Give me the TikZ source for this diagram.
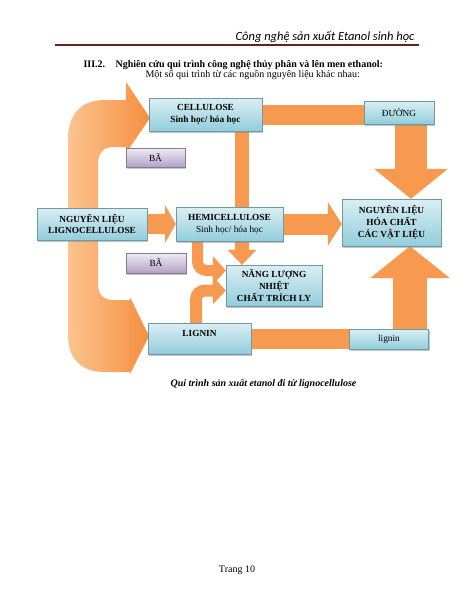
\documentclass[tikz,border=0pt]{standalone}
\usepackage{fontspec}
\setmainfont{Liberation Serif}
\newfontfamily\headfont{Carlito}
\usetikzlibrary{calc}
\usetikzlibrary{arrows.meta}
\usetikzlibrary{shadows}
\usetikzlibrary{backgrounds}

\definecolor{flow}{HTML}{F79A50}
\definecolor{flowlight}{HTML}{FBC490}
\definecolor{flowdark}{HTML}{F68E3E}
\definecolor{boxtop}{HTML}{DAEEF3}
\definecolor{boxbot}{HTML}{92CDDC}
\definecolor{batop}{HTML}{EFEBF4}
\definecolor{babot}{HTML}{B2A2C7}
\definecolor{rulecol}{HTML}{622423}

\tikzset{
  box/.style={top color=boxtop, bottom color=boxbot, draw=boxbot!75!black,
    line width=0.3pt, align=center, inner sep=0pt,
    drop shadow={shadow xshift=1.2pt, shadow yshift=-1.5pt, opacity=0.45},
    font=\fontsize{9.3}{11.8}\selectfont},
  babox/.style={box, top color=batop, bottom color=babot, draw=babot!75!black},
  flowline/.style={draw=flow, line width=#1},
  bentflow/.style={left color=flowlight, right color=flowdark, draw=none},
}

\begin{document}
\begin{tikzpicture}[x=1pt, y=1pt]
    \useasboundingbox (0,0) rectangle (474,-613);

    % page header
    \node[anchor=base east, font=\headfont\itshape\fontsize{12.5}{14}\selectfont] (hdr) at (418,-40)
      {Công nghệ sản xuất Etanol sinh học};
    \draw[rulecol, line width=2.5pt] (55,-45) -- (419,-45);

    \node[anchor=base west, font=\bfseries\fontsize{10}{12}\selectfont] (secnum) at (80,-67) {III.2.};
    \node[anchor=base west, font=\bfseries\fontsize{10}{12}\selectfont] (sectitle) at (112,-67)
      {Nghiên cứu qui trình công nghệ thủy phân và lên men ethanol:};
    \node[anchor=base west, font=\fontsize{10}{12}\selectfont] (intro) at (142,-77)
      {Một số qui trình từ các nguồn nguyên liệu khác nhau:};

    % boxes
    \node[box, minimum width=113pt, minimum height=33pt] (cell) at (205.5,-114.5)
      {\textbf{CELLULOSE}\\\textbf{Sinh học/ hóa học}};
    \node[box, minimum width=70pt, minimum height=23pt] (duong) at (399,-112.5) {ĐƯỜNG};
    \node[babox, minimum width=59pt, minimum height=19pt] (ba1) at (155.5,-157.5) {BÃ};
    \node[box, minimum width=110pt, minimum height=32pt] (lig) at (92,-224)
      {\textbf{NGUYÊN LIỆU}\\\textbf{LIGNOCELLULOSE}};
    \node[box, minimum width=107pt, minimum height=34pt] (hemi) at (229.5,-224)
      {\textbf{HEMICELLULOSE}\\Sinh học/ hóa học};
    \node[box, minimum width=99pt, minimum height=47pt] (nlhc) at (391.5,-222.5)
      {\textbf{NGUYÊN LIỆU}\\\textbf{HÓA CHẤT}\\\textbf{CÁC VẬT LIỆU}};
    \node[babox, minimum width=60pt, minimum height=20pt] (ba2) at (156,-263) {BÃ};
    \node[box, minimum width=96pt, minimum height=41pt] (nang) at (274,-285.5)
      {\textbf{NĂNG LƯỢNG}\\\textbf{NHIỆT}\\\textbf{CHẤT TRÍCH LY}};
    \node[box, minimum width=103pt, minimum height=31pt, text depth=10pt] (lignin) at (199.5,-338.5)
      {\textbf{LIGNIN}};
    \node[box, minimum width=79pt, minimum height=20pt] (lignin2) at (389,-339) {lignin};

    \node[anchor=base, font=\bfseries\itshape\fontsize{10}{12}\selectfont] (caption) at (263.5,-386)
      {Qui trình sản xuất etanol đi từ lignocellulose};
    \node[anchor=base, font=\fontsize{10}{12}\selectfont] (page) at (237,-572) {Trang 10};

    \begin{scope}[on background layer]
    \fill[white] (0,0) rectangle (474,-613);

    % bent arrows from the raw material
    \path[bentflow] (68,-208) -- (68,-140) .. controls (68,-115) and (80,-100) .. (105,-100)
      -- (126,-100) -- (126,-82) -- (150,-118) -- (126,-153) -- (126,-147) -- (113,-147)
      .. controls (104,-147) and (98,-153) .. (98,-163) -- (98,-208) -- cycle;
    \path[bentflow] (68,-240) -- (68,-335) .. controls (68,-358) and (80,-372) .. (105,-372)
      -- (130,-372) -- (130,-374) -- (149,-336) -- (130,-297) -- (130,-300) -- (113,-300)
      .. controls (104,-300) and (98,-295) .. (98,-285) -- (98,-240) -- cycle;

    \draw[flowline=20pt, -{Triangle[length=11pt, width=38pt]}] (lig.east) -- (hemi.west);
    \draw[flowline=20pt] (cell.east) -- (cell.east -| duong.center);
    \draw[flowline=32pt, -{Triangle[length=30pt, width=72pt]}] ([xshift=12pt]duong.center)
      -- ([xshift=12pt]duong.center |- nlhc.north);
    \draw[flowline=14pt, -{Triangle[length=15pt, width=28pt]}] ([xshift=36.5pt]cell.south)
      -- ([xshift=36.5pt]cell.south |- nang.north);
    \draw[flowline=21pt, -{Triangle[length=14pt, width=43pt]}] (hemi.east) -- (hemi.east -| nlhc.west);
    \draw[flowline=20pt] (lignin.east) -- (lignin.east -| lignin2.center);
    \draw[flowline=34pt, -{Triangle[length=32pt, width=78pt]}] ([xshift=21pt]lignin2.center)
      -- ([xshift=21pt]lignin2.center |- nlhc.south);
    \draw[flowline=11pt, rounded corners=9pt, -{Triangle[length=13pt, width=28pt]}]
      ([xshift=-32pt]hemi.south) |- ([yshift=15pt]nang.west);
    \draw[flowline=12pt, rounded corners=9pt, -{Triangle[length=13pt, width=27pt]}]
      ([xshift=-3.5pt]lignin.north) |- ([yshift=-5pt]nang.west);
    \end{scope}

\end{tikzpicture}
\end{document}
